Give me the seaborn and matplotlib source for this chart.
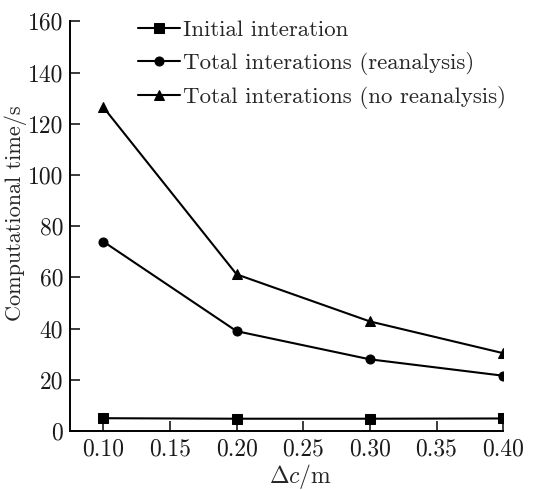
import matplotlib
matplotlib.use("Agg")
import matplotlib.pyplot as plt
import seaborn as sns
import pandas as pd

# Grid spacing and computational time for each strategy
delta_c = [0.10, 0.20, 0.30, 0.40]
initial_iteration = [5.0, 4.8, 4.8, 4.9]
total_reanalysis = [74.0, 39.0, 28.0, 21.6]
total_no_reanalysis = [126.5, 61.2, 42.8, 30.4]

series_names = [
    "Initial interation",
    "Total interations (reanalysis)",
    "Total interations (no reanalysis)",
]
series_values = [initial_iteration, total_reanalysis, total_no_reanalysis]
markers = ["s", "o", "^"]

x_ticks = [0.10, 0.15, 0.20, 0.25, 0.30, 0.35, 0.40]
y_ticks = [0, 20, 40, 60, 80, 100, 120, 140, 160]

sns.set_theme(style="ticks")
plt.rcParams["font.family"] = "serif"
plt.rcParams["font.serif"] = ["cmr10"]
plt.rcParams["mathtext.fontset"] = "cm"
plt.rcParams["axes.formatter.use_mathtext"] = True

rows = []
for name, vals in zip(series_names, series_values):
    for x, v in zip(delta_c, vals):
        rows.append({"dc": x, "time": v, "series": name})
df = pd.DataFrame(rows)

fig = plt.figure(figsize=(5.48, 4.90), dpi=100)
ax = fig.add_axes([0.1277, 0.1204, 0.7905, 0.8359])

sns.lineplot(
    data=df, x="dc", y="time", hue="series", style="series",
    hue_order=series_names, style_order=series_names,
    palette=["black"] * 3, markers=markers, dashes=False,
    markersize=6.5, linewidth=1.5, markeredgecolor="black", ax=ax,
)

ax.set_xlim(0.075, 0.40)
ax.set_ylim(0, 160)
ax.set_xticks(x_ticks)
ax.set_xticklabels([f"{t:.2f}" for t in x_ticks])
ax.set_yticks(y_ticks)
ax.set_yticklabels([str(t) for t in y_ticks])
ax.tick_params(direction="in", length=7, width=1.2, labelsize=17, colors="#1a1a1a", pad=5)
for s in ["top", "right"]:
    ax.spines[s].set_visible(False)
for s in ["left", "bottom"]:
    ax.spines[s].set_linewidth(1.4)
    ax.spines[s].set_color("black")

ax.set_xlabel(r"$\Delta c$/m", fontsize=17)
ax.set_ylabel("Computational time/s", fontsize=16)
ax.xaxis.set_label_coords(0.533, -0.076)
ax.yaxis.set_label_coords(-0.099, 0.532)

leg = ax.legend(
    loc="upper left", bbox_to_anchor=(0.135, 1.025), frameon=False,
    fontsize=16.5, handlelength=1.85, handletextpad=0.12, labelspacing=0.5,
    borderaxespad=0,
)

fig.savefig("out.png", dpi=100)
